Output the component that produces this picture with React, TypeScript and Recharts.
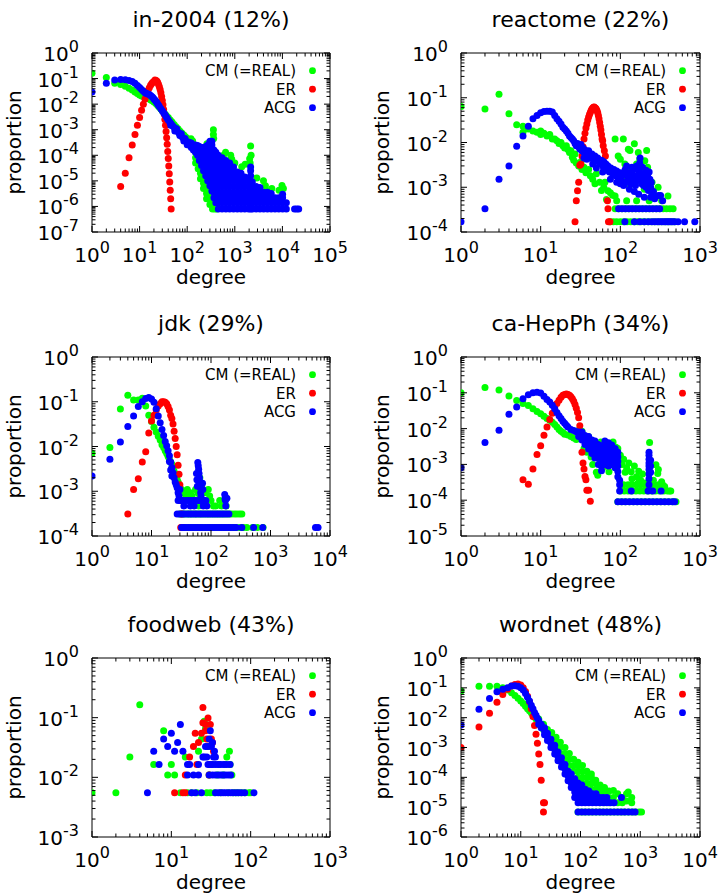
import React from "react";
import { Legend, ReferenceLine, Scatter, ScatterChart, XAxis, YAxis } from "recharts";

type Pt = [number, number];
type Col = [number, number[]];
type XY = { x: number; y: number };

const seriesNames = ["CM (=REAL)", "ER", "ACG"];
const seriesColors = ["#00ff00", "#ff0000", "#0000ff"];
const FONT = "DejaVu Sans";

// ---------- in-2004 ----------
const in2004XDecades = [1, 10, 100, 1e3, 1e4, 1e5];
const in2004YDecades = [1e-7, 1e-6, 1e-5, 1e-4, 1e-3, 1e-2, 1e-1, 1];
const in2004Cm: Pt[] = [
  [1, 0.16], [2, 0.11], [3, 0.065], [4, 0.058], [5, 0.05], [6, 0.042], [7, 0.036], [8, 0.03], [9, 0.026],
  [10, 0.023], [11, 0.021], [12, 0.02], [13, 0.019], [14, 0.018], [15, 0.017], [16, 0.016], [17, 0.015],
  [18, 0.014], [20, 0.012], [22, 0.0105], [24, 0.0088], [26, 0.0075], [28, 0.0064], [30, 0.0055], [33, 0.0045],
  [36, 0.0037], [40, 0.003], [44, 0.0024], [48, 0.002], [53, 0.0016], [58, 0.0013], [64, 0.0011], [70, 9e-4],
  [77, 7.5e-4], [85, 6.2e-4], [93, 5.2e-4], [100, 4.4e-4], [110, 4.2e-4], [120, 4.4e-4], [130, 3.6e-4],
  [355, 1e-3], [355, 6.5e-4], [360, 4.5e-4], [260, 2.8e-4], [300, 2.6e-4], [580, 1e-4], [640, 1.3e-4],
  [820, 1e-4], [860, 7.2e-5], [1000, 5e-5], [1200, 1.9e-5], [1400, 3.6e-5], [1650, 4.5e-5], [2050, 7.3e-5],
  [2100, 5e-5], [2150, 2.3e-4], [2200, 1e-4], [2900, 1.3e-5], [4000, 1e-5], [4400, 6.5e-6], [4700, 4.2e-6],
  [6000, 5e-6], [8500, 4.3e-6], [9800, 6.6e-6], [10500, 5e-6],
];
const in2004CmTail: Col[] = [
  [150, [5e-5, 8e-5, 1.3e-4, 2e-4]],
  [170, [3e-5, 5e-5, 8e-5, 1.3e-4]],
  [190, [1.2e-5, 2e-5, 3.2e-5, 5e-5, 8e-5]],
  [220, [5e-6, 8e-6, 1.3e-5, 2e-5, 3.2e-5]],
  [255, [2e-6, 3.2e-6, 5e-6, 8e-6, 1.3e-5]],
  [300, [1.2e-6, 2e-6, 3.2e-6, 5e-6]],
  [340, [8e-7, 1.4e-6, 2.2e-6]],
  [380, [8e-7, 1.4e-6]],
  [420, [8e-7]],
];
const in2004Er: Pt[] = [
  [4, 6e-6], [5, 2e-5], [6, 8e-5], [7, 2.5e-4], [8, 6.5e-4], [9, 1.5e-3], [10, 3e-3], [11, 5.8e-3], [12, 0.01],
  [13, 0.016], [14, 0.024], [15, 0.034], [16, 0.044], [17, 0.055], [18, 0.064], [19, 0.071], [20, 0.077],
  [21, 0.087], [22, 0.085], [23, 0.08], [24, 0.07], [25, 0.059], [26, 0.048], [27, 0.037], [28, 0.028],
  [29, 0.02], [30, 0.014], [31, 9.5e-3], [32, 6.2e-3], [33, 4e-3], [34, 2.5e-3], [35, 1.5e-3], [36, 8.5e-4],
  [37, 4.8e-4], [38, 2.7e-4], [39, 1.4e-4], [40, 7.5e-5], [41, 3.8e-5], [42, 1.9e-5], [43, 9e-6], [44, 4.3e-6],
  [45, 2e-6], [46, 8e-7],
];
const in2004Acg: Pt[] = [
  [1, 0.03], [2, 0.065], [3, 0.088], [4, 0.092], [5, 0.09], [6, 0.085], [7, 0.076], [8, 0.065], [9, 0.054],
  [10, 0.045], [11, 0.037], [12, 0.032], [13, 0.028], [14, 0.026], [15, 0.025], [16, 0.024], [17, 0.022],
  [18, 0.02], [19, 0.018], [20, 0.016], [21, 0.0145], [22, 0.013], [23, 0.0115], [24, 0.0102], [25, 0.009],
  [26, 0.008], [28, 0.0066], [30, 0.0055], [32, 0.0046], [34, 0.0039], [36, 0.0033], [38, 0.0028], [40, 0.0024],
  [43, 0.002], [46, 0.0017], [50, 0.0014], [54, 0.0012], [58, 0.001], [63, 8.5e-4], [68, 7.2e-4], [74, 6e-4],
  [80, 5e-4], [87, 4.3e-4], [95, 3.6e-4], [105, 3e-4], [45, 1.5e-3], [55, 9e-4], [60, 1.1e-3], [70, 6e-4],
  [75, 7e-4], [85, 3.6e-4], [90, 4.5e-4], [100, 2.6e-4],
];
const in2004AcgTail: Col[] = [
  [110, [2.5e-4, 3.2e-4]],
  [122, [2e-4, 3e-4]],
  [135, [1.6e-4, 2.5e-4]],
  [150, [1.3e-4, 2e-4, 2.5e-4]],
  [165, [1e-4, 1.6e-4, 2.4e-4]],
  [180, [6.3e-5, 1e-4, 1.6e-4, 2.2e-4]],
  [200, [4e-5, 6.3e-5, 1e-4, 1.6e-4, 2e-4]],
  [220, [2.5e-5, 4e-5, 6.3e-5, 1e-4, 1.6e-4, 2e-4]],
  [245, [1.6e-5, 2.5e-5, 4e-5, 6.3e-5, 1e-4, 1.6e-4, 2.2e-4]],
  [270, [1e-5, 1.6e-5, 2.5e-5, 4e-5, 6.3e-5, 1e-4, 1.6e-4, 2.5e-4]],
  [300, [6.4e-6, 1e-5, 1.6e-5, 2.5e-5, 4e-5, 6.3e-5, 1e-4, 1.6e-4, 2.5e-4, 3.5e-4]],
  [330, [4e-6, 6.4e-6, 1e-5, 1.6e-5, 2.5e-5, 4e-5, 6.3e-5, 1e-4, 1.6e-4, 2.5e-4, 3.5e-4]],
  [365, [2.2e-6, 3.6e-6, 6e-6, 1e-5, 1.6e-5, 2.5e-5, 4e-5, 6.3e-5, 1e-4, 1.6e-4]],
  [400, [1.4e-6, 2.2e-6, 3.6e-6, 6e-6, 1e-5, 1.6e-5, 2.5e-5, 4e-5, 6.3e-5, 1e-4, 1.3e-4]],
  [450, [8e-7, 1.4e-6, 2.2e-6, 3.6e-6, 6e-6, 1e-5, 1.6e-5, 2.5e-5, 4e-5, 6.3e-5, 1e-4]],
  [540, [8e-7, 1.4e-6, 2.2e-6, 3.6e-6, 6e-6, 1e-5, 1.6e-5, 2.5e-5, 4e-5, 6.3e-5, 8e-5]],
  [650, [8e-7, 1.4e-6, 2.2e-6, 3.6e-6, 6e-6, 1e-5, 1.6e-5, 2.5e-5, 4e-5, 6.3e-5]],
  [780, [8e-7, 1.4e-6, 2.2e-6, 3.6e-6, 6e-6, 1e-5, 1.6e-5, 2.5e-5, 4e-5, 5e-5]],
  [940, [8e-7, 1.4e-6, 2.2e-6, 3.6e-6, 6e-6, 1e-5, 1.6e-5, 2.5e-5, 3.5e-5]],
  [1130, [8e-7, 1.4e-6, 2.2e-6, 3.6e-6, 6e-6, 1e-5, 1.6e-5, 2.2e-5]],
  [1350, [8e-7, 1.4e-6, 2.2e-6, 3.6e-6, 6e-6, 1e-5, 1.6e-5, 2e-5]],
  [1620, [8e-7, 1.4e-6, 2.2e-6, 3.6e-6, 6e-6, 1e-5, 1.4e-5]],
  [1950, [8e-7, 1.4e-6, 2.2e-6, 3.6e-6, 6e-6, 1e-5]],
  [2150, [8e-7, 1.4e-6, 3.6e-6, 1e-5, 1.6e-5, 2.5e-5, 3.5e-5]],
  [2340, [8e-7, 1.4e-6, 2.2e-6, 3.6e-6, 6e-6, 9e-6]],
  [2800, [8e-7, 1.4e-6, 2.2e-6, 3.6e-6, 6e-6]],
  [3370, [8e-7, 1.4e-6, 2.2e-6, 3.6e-6, 5.5e-6]],
  [4040, [8e-7, 1.4e-6, 2.2e-6, 3.6e-6]],
  [4850, [8e-7, 1.4e-6, 2.2e-6, 3.6e-6]],
  [5820, [8e-7, 1.4e-6, 2.2e-6, 3.2e-6]],
  [7000, [8e-7, 1.4e-6, 2.2e-6]],
  [8400, [8e-7, 1.4e-6, 2.2e-6]],
  [10100, [8e-7, 1.4e-6, 2.2e-6, 3e-6]],
  [12100, [8e-7, 1.4e-6]],
  [18000, [8e-7]],
  [20000, [8e-7]],
  [22000, [8e-7]],
];

// ---------- reactome ----------
const reactomeXDecades = [1, 10, 100, 1e3];
const reactomeYDecades = [1e-4, 1e-3, 1e-2, 1e-1, 1];
const reactomeCm: Pt[] = [
  [1, 0.064], [2, 0.056], [3, 0.12], [4, 0.044], [5, 0.025], [6, 0.023], [6, 0.017], [7, 0.02], [8, 0.018],
  [9, 0.017], [10, 0.018], [10, 0.015], [11, 0.016], [12, 0.014], [13, 0.015], [14, 0.012], [15, 0.012],
  [16, 0.011], [17, 0.0095], [18, 0.01], [19, 0.0085], [20, 0.0075], [21, 0.0085], [22, 0.007], [23, 0.006],
  [24, 0.0065], [25, 0.0047], [26, 0.004], [27, 0.0055], [28, 0.0035], [30, 0.003], [32, 0.0037], [33, 0.0025],
  [35, 0.0028], [37, 0.0021], [40, 0.0025], [42, 0.0018], [45, 0.0015], [48, 0.0012], [50, 0.002], [55, 0.0013],
  [58, 8.5e-4], [62, 0.001], [64, 0.0013], [67, 5.3e-4], [70, 8.3e-4], [75, 7.5e-4], [80, 6.6e-4], [86, 6.4e-4],
  [86, 0.012], [94, 0.005], [100, 0.0042], [109, 0.012], [114, 0.0033], [120, 0.0026], [126, 0.0071],
  [132, 0.0066], [140, 0.0025], [150, 0.0094], [160, 0.0033], [168, 0.006], [175, 0.0043], [180, 0.0023],
  [193, 0.0018], [203, 0.0039], [214, 0.0066], [220, 0.0028], [236, 0.0011], [250, 0.0013], [298, 0.001],
  [310, 6.4e-4], [396, 6.4e-4], [260, 8e-4], [200, 9e-4], [150, 0.0012], [110, 0.0015], [130, 0.0011],
  [90, 5e-4], [120, 5e-4], [160, 5e-4], [230, 5e-4], [330, 5e-4],
];
const reactomeCmDouble = [86, 95, 105, 116, 128, 141, 156, 172, 190, 210, 232, 256, 283, 312, 345, 380, 420, 460];
const reactomeCmSingle = [75, 82, 90, 100, 110, 122, 135, 150, 165, 182, 200, 222, 245, 270, 300, 330, 365, 400, 440, 480];
const reactomeEr: Pt[] = [
  [27, 1.7e-4], [28, 5e-4], [29, 8.3e-4], [30, 1.3e-3], [31, 3.1e-3], [32, 3.3e-3], [33, 5e-3], [34, 8e-3],
  [35, 0.012], [36, 0.016], [37, 0.021], [38, 0.026], [39, 0.032], [40, 0.037], [41, 0.042], [42, 0.047],
  [43, 0.052], [44, 0.056], [45, 0.059], [46, 0.061], [47, 0.062], [48, 0.06], [49, 0.058], [50, 0.055],
  [51, 0.051], [52, 0.046], [53, 0.04], [54, 0.034], [55, 0.028], [56, 0.023], [57, 0.019], [58, 0.015],
  [59, 0.012], [60, 0.011], [61, 0.0085], [63, 0.0065], [65, 0.005], [69, 5e-4], [70, 3.3e-4], [71, 1.7e-4],
  [74, 1.7e-4],
];
const reactomeAcg: Pt[] = [
  [1, 1.7e-4], [2, 3.3e-4], [3, 1.5e-3], [4, 3e-3], [5, 8.2e-3], [6, 0.014], [7, 0.023], [8, 0.034], [9, 0.04],
  [10, 0.046], [11, 0.049], [12, 0.05], [13, 0.05], [14, 0.048], [15, 0.04], [16, 0.034], [17, 0.03],
  [18, 0.026], [19, 0.022], [20, 0.02], [21, 0.018], [22, 0.016], [23, 0.014], [24, 0.013], [25, 0.012],
  [26, 0.011], [27, 0.0095], [28, 0.0085], [29, 0.0095], [30, 0.008], [31, 0.0072], [32, 0.009], [33, 0.0065],
  [34, 0.0075], [35, 0.006], [36, 0.0068], [38, 0.0058], [40, 0.005], [40, 0.0065], [42, 0.0045], [44, 0.0055],
  [46, 0.0042], [48, 0.005], [50, 0.0038], [52, 0.0045], [55, 0.0034], [58, 0.004], [60, 0.003], [62, 0.0037],
  [64, 0.0026], [66, 0.0033], [68, 0.0024], [70, 0.003], [73, 0.0022], [76, 0.0027], [80, 0.002], [83, 0.0025],
  [87, 0.0018], [90, 0.0023], [95, 0.0016], [100, 0.0021], [105, 0.0014], [110, 0.0019], [115, 0.0025],
  [120, 0.0013], [125, 0.0017], [130, 0.0021], [135, 0.0012], [140, 0.0015], [145, 0.0019], [150, 0.0026],
  [155, 0.0011], [160, 0.0014], [165, 0.0018], [170, 0.0024], [175, 0.0035], [177, 0.0045], [180, 0.0016],
  [185, 0.0012], [190, 0.002], [195, 0.0011], [200, 0.0014], [205, 0.0017], [210, 0.001], [215, 0.0013],
  [220, 0.0018], [225, 8.5e-4], [230, 0.0012], [235, 0.0015], [240, 0.001], [245, 0.0013], [250, 6.5e-4],
  [260, 8e-4], [270, 5.5e-4], [300, 6.5e-4], [320, 6.5e-4], [340, 5e-4],
  [35, 0.0045], [38, 0.0042], [45, 0.0033], [50, 0.0027], [60, 0.0022], [75, 0.0015], [90, 0.0013],
  [100, 0.0012], [110, 0.0011], [120, 0.003], [130, 9e-4], [140, 0.0028], [150, 8e-4], [160, 0.003],
  [170, 7e-4], [190, 0.0028], [200, 6e-4], [210, 0.0024], [230, 0.0022], [240, 6e-4],
];
const reactomeAcgDouble = [95, 105, 116, 128, 141, 156, 172, 190, 210, 232, 256, 283, 312];
const reactomeAcgSingle = [114, 150, 175, 200, 225, 250, 270, 290, 310, 330, 350, 370, 390, 410, 430, 455, 480, 530, 640, 860];

// ---------- jdk ----------
const jdkXDecades = [1, 10, 100, 1e3, 1e4];
const jdkYDecades = [1e-4, 1e-3, 1e-2, 1e-1, 1];
const jdkCm: Pt[] = [
  [1, 7.1e-3], [2, 9.5e-3], [3, 0.069], [4, 0.14], [5, 0.11], [6, 0.11], [7, 0.12], [8, 0.08], [9, 0.05],
  [10, 0.036], [11, 0.027], [12, 0.021], [13, 0.017], [14, 0.014], [15, 0.011], [16, 9.5e-3], [17, 8e-3],
  [18, 7e-3], [19, 6e-3], [20, 5.2e-3], [21, 4.5e-3], [22, 4e-3], [23, 3.3e-3], [24, 2.8e-3], [25, 2.4e-3],
  [26, 2e-3], [27, 1.8e-3], [28, 1.6e-3], [30, 1.2e-3], [32, 1.1e-3], [34, 9.3e-4], [36, 9.3e-4], [38, 7.8e-4],
  [40, 1.1e-3], [42, 6.2e-4], [45, 9.3e-4], [48, 7.8e-4], [50, 6.2e-4], [55, 1.1e-3], [60, 9.3e-4], [62, 4.7e-4],
  [65, 7.8e-4], [70, 1.2e-3], [75, 6.2e-4], [80, 9.3e-4], [90, 1.1e-3], [95, 7.8e-4], [100, 6.2e-4],
  [110, 4.7e-4], [140, 6.2e-4], [150, 4.7e-4], [65, 2e-3], [120, 4.7e-4], [180, 4.7e-4],
];
const jdkCmDouble = [30, 33, 36, 40, 44, 48, 53, 58, 64, 70, 77, 85, 93, 102, 112, 123, 135, 148, 163, 180, 200, 220, 245, 270, 300, 330];
const jdkCmSingle = [35, 40, 46, 52, 60, 68, 78, 90, 100, 115, 130, 150, 170, 200, 230, 260, 300, 350, 400, 500, 600, 750];
const jdkEr: Pt[] = [
  [4, 3.1e-4], [5, 1.1e-3], [6, 1.9e-3], [7, 4.5e-3], [8, 7.6e-3], [9, 0.02], [10, 0.037], [11, 0.05],
  [12, 0.065], [13, 0.08], [14, 0.09], [15, 0.1], [16, 0.1], [17, 0.097], [18, 0.09], [19, 0.078], [20, 0.065],
  [21, 0.05], [22, 0.042], [23, 0.032], [24, 0.022], [25, 0.015], [26, 0.01], [27, 6.5e-3], [28, 3.8e-3],
  [29, 2.4e-3], [30, 1.4e-3], [31, 6.2e-4], [32, 3.1e-4], [31, 1.55e-4], [33, 1.55e-4],
];
const jdkAcg: Pt[] = [
  [1, 2.2e-3], [2, 5.2e-3], [3, 0.0126], [4, 0.028], [5, 0.048], [6, 0.078], [7, 0.1], [8, 0.118], [9, 0.125],
  [10, 0.115], [11, 0.097], [12, 0.07], [13, 0.048], [14, 0.034], [15, 0.024], [16, 0.0175], [17, 0.013],
  [18, 0.0104], [19, 0.008], [20, 0.0062], [21, 0.0045], [22, 0.0034], [23, 0.0026], [24, 0.002], [25, 0.0016],
  [26, 0.0014], [27, 0.0012], [28, 9.3e-4], [29, 7.8e-4], [30, 1.1e-3], [20, 0.0046], [21, 0.003], [22, 0.0022],
  [35, 4.7e-4], [45, 4.7e-4], [52, 4.7e-4], [57, 2.5e-3], [58, 1.8e-3], [59, 1.3e-3], [60, 4.4e-3], [61, 3.7e-3],
  [62, 3.1e-3], [63, 2.5e-3], [64, 2e-3], [65, 1.6e-3], [66, 1.2e-3], [67, 9.3e-4], [68, 7.8e-4], [72, 1.5e-3],
  [73, 1.1e-3], [74, 4.7e-4], [85, 4.7e-4], [170, 8.5e-4], [172, 6.8e-4], [175, 6.2e-4], [177, 4.7e-4],
  [185, 7e-4],
];
const jdkAcgQuad = [28, 31, 34, 38, 42, 46, 51, 56, 62, 68, 75, 82];
const jdkAcgDouble = [27, 30, 33, 36, 40, 44, 48, 53, 58, 64, 70, 77, 85, 93, 102, 112, 123, 135, 148, 163, 180, 200];
const jdkAcgSingle = [32, 35, 38, 42, 46, 50, 55, 60, 66, 72, 80, 88, 96, 105, 115, 126, 138, 150, 165, 180, 198, 217, 240, 265, 330, 520, 740, 5700, 6300];

// ---------- ca-HepPh ----------
const hepXDecades = [1, 10, 100, 1e3];
const hepYDecades = [1e-5, 1e-4, 1e-3, 1e-2, 1e-1, 1];
const hepCm: Pt[] = [
  [1, 0.1], [2, 0.14], [3, 0.12], [4, 0.081], [5, 0.061], [6, 0.05], [7, 0.044], [8, 0.036], [9, 0.03],
  [10, 0.026], [11, 0.022], [12, 0.019], [13, 0.017], [14, 0.015], [15, 0.013], [16, 0.011], [17, 0.0095],
  [18, 0.0085], [19, 0.0078], [20, 0.007], [22, 0.0066], [24, 0.006], [26, 0.0055], [28, 0.005], [30, 0.009],
  [33, 0.0085], [35, 0.0028], [38, 0.0022], [40, 0.0059], [43, 0.0016], [45, 0.001], [48, 0.0024], [50, 6e-4],
  [52, 5e-4], [55, 0.0014], [57, 0.0042], [60, 8e-4], [62, 0.003], [66, 0.0036], [70, 0.0011], [72, 6.2e-4],
  [76, 0.0024], [81, 0.0042], [85, 9e-4], [88, 0.003], [93, 0.0028], [100, 0.0018], [105, 0.001], [110, 0.0014],
  [115, 6e-4], [120, 8e-4], [128, 0.0011], [137, 6.2e-4], [140, 4e-4], [150, 9e-4], [160, 4.5e-4], [167, 3e-4],
  [170, 6.4e-4], [180, 3.6e-4], [190, 5.4e-4], [203, 3e-4], [210, 2.7e-4], [233, 0.0041], [240, 2.7e-4],
  [260, 3.6e-4], [280, 9.7e-4], [295, 5.6e-4], [300, 7.2e-4], [330, 3.3e-4], [360, 2.4e-4], [415, 1.8e-4],
];
const hepCmTriple = [110, 125, 140, 160, 180, 205, 230, 265, 300, 340];
const hepCmDouble = [100, 112, 125, 140, 157, 176, 197, 220, 247, 277, 310, 350, 390, 430];
const hepCmSingle = [93, 104, 116, 130, 146, 163, 183, 205, 230, 257, 288, 322, 361, 404, 452, 500];
const hepEr: Pt[] = [
  [6, 3.7e-4], [7, 2.8e-4], [8, 7.4e-4], [9, 1.9e-3], [10, 3.3e-3], [11, 6.5e-3], [12, 0.011], [13, 0.018],
  [14, 0.027], [15, 0.038], [16, 0.05], [17, 0.062], [18, 0.075], [19, 0.085], [20, 0.09], [21, 0.092],
  [22, 0.09], [23, 0.085], [24, 0.077], [25, 0.068], [26, 0.058], [27, 0.047], [28, 0.037], [29, 0.028],
  [30, 0.02], [31, 0.012], [32, 6e-3], [33, 2.2e-3], [34, 1.1e-3], [35, 7.4e-4], [36, 4.6e-4], [37, 3.7e-4],
  [38, 1.9e-4], [40, 1.9e-4], [42, 9.3e-5],
];
const hepAcg: Pt[] = [
  [1, 8.1e-4], [2, 4.1e-3], [3, 9e-3], [4, 0.025], [5, 0.04], [6, 0.068], [7, 0.088], [8, 0.1], [9, 0.104],
  [10, 0.098], [11, 0.08], [12, 0.065], [13, 0.055], [14, 0.045], [15, 0.036], [16, 0.028], [17, 0.023],
  [18, 0.019], [19, 0.016], [20, 0.014], [21, 0.0125], [22, 0.011], [24, 0.0095], [26, 0.0088], [28, 0.0082],
];
const hepAcgBlob: Col[] = [
  [30, [6e-3, 8e-3]],
  [33, [4.8e-3, 6.4e-3, 8e-3]],
  [36, [3.6e-3, 4.8e-3, 6.4e-3]],
  [40, [2.7e-3, 3.6e-3, 4.8e-3, 6e-3]],
  [44, [2e-3, 2.7e-3, 3.6e-3, 4.8e-3]],
  [48, [1.5e-3, 2e-3, 2.7e-3, 3.6e-3, 4.5e-3]],
  [53, [1e-3, 1.5e-3, 2e-3, 2.7e-3, 3.6e-3]],
  [58, [6.6e-4, 9e-4, 1.3e-3, 1.8e-3, 2.5e-3, 3.3e-3]],
  [64, [1e-3, 1.4e-3, 1.9e-3, 2.6e-3, 3.5e-3, 4.5e-3]],
  [71, [9e-4, 1.2e-3, 1.6e-3, 2.2e-3, 3e-3, 4e-3]],
  [78, [1e-3, 1.4e-3, 1.9e-3, 2.6e-3, 3.5e-3]],
  [86, [8e-4, 1.1e-3, 1.5e-3, 2e-3, 2.8e-3]],
  [93, [4.5e-4, 6.3e-4, 9e-4, 1.2e-3, 1.6e-3, 2.2e-3]],
  [98, [1.8e-4, 2.7e-4, 3.6e-4]],
  [137, [1.8e-4]],
  [223, [1.8e-4]],
  [229, [2.2e-3, 1.8e-3, 1.4e-3, 1.1e-3, 9e-4, 7.2e-4, 5.4e-4, 4e-4, 2.7e-4]],
  [240, [1.3e-3, 9e-4, 6e-4]],
  [255, [1.8e-4]],
  [325, [1.8e-4]],
];
const hepAcgSingle = [93, 104, 116, 130, 146, 163, 183, 205, 230, 257, 288, 322, 361, 404, 452, 480];

// ---------- foodweb ----------
const foodXDecades = [1, 10, 100, 1e3];
const foodYDecades = [1e-3, 1e-2, 1e-1, 1];
const foodCm: Pt[] = [
  [1, 0.0055], [2, 0.0055], [3, 0.0219], [4, 0.164], [6, 0.0164], [8, 0.0601], [9, 0.0109], [10, 0.0164],
  [11, 0.0109], [13, 0.0055], [15, 0.0219], [16, 0.0055], [18, 0.0055], [21, 0.0055], [22, 0.0273], [24, 0.0437],
  [26, 0.0874], [27, 0.0656], [28, 0.0055], [29, 0.0328], [30, 0.0109], [31, 0.0055], [33, 0.0164], [35, 0.0055],
  [38, 0.0109], [40, 0.0164], [42, 0.0055], [45, 0.0109], [47, 0.0164], [50, 0.0219], [52, 0.0055], [54, 0.0273],
  [55, 0.0164], [58, 0.0109], [60, 0.0055], [65, 0.0055], [70, 0.0055], [77, 0.0055], [85, 0.0055], [95, 0.0055],
  [100, 0.0055],
];
const foodEr: Pt[] = [
  [11, 0.0055], [14, 0.0055], [15, 0.0055], [15, 0.0109], [17, 0.0219], [19, 0.0328], [20, 0.0546], [21, 0.0164],
  [22, 0.0382], [24, 0.0546], [25, 0.082], [25, 0.148], [27, 0.0601], [28, 0.0437], [29, 0.0984], [31, 0.0765],
  [32, 0.0437], [33, 0.0382], [34, 0.0273], [30, 0.0109], [31, 0.0164], [27, 0.0765],
];
const foodAcg: Pt[] = [
  [5, 0.0055], [6, 0.0273], [7, 0.0164], [8, 0.0437], [9, 0.0328], [10, 0.0546], [11, 0.0273], [12, 0.0382],
  [13, 0.0765], [14, 0.0273], [16, 0.0164], [17, 0.0164], [16, 0.0109], [19, 0.0109], [22, 0.0109], [18, 0.0055],
  [20, 0.0055], [24, 0.0055], [22, 0.0164], [25, 0.0219], [26, 0.0219], [27, 0.0328], [28, 0.0219], [29, 0.0328],
  [30, 0.0437], [31, 0.0601], [32, 0.0328], [33, 0.0382], [34, 0.0219], [35, 0.0273], [36, 0.0219], [29, 0.0164],
  [31, 0.0164], [33, 0.0164], [36, 0.0164], [39, 0.0164], [42, 0.0164], [46, 0.0164], [50, 0.0164], [55, 0.0164],
  [30, 0.0109], [33, 0.0109], [36, 0.0109], [39, 0.0109], [42, 0.0109], [45, 0.0109], [48, 0.0109], [52, 0.0109],
  [56, 0.0109], [36, 0.0055], [39, 0.0055], [42, 0.0055], [45, 0.0055], [48, 0.0055], [52, 0.0055], [56, 0.0055],
  [60, 0.0055], [65, 0.0055], [70, 0.0055], [76, 0.0055], [84, 0.0055], [110, 0.0055],
];

// ---------- wordnet ----------
const wordnetXDecades = [1, 10, 100, 1e3, 1e4];
const wordnetYDecades = [1e-6, 1e-5, 1e-4, 1e-3, 1e-2, 1e-1, 1];
const wordnetCm: Pt[] = [
  [1, 0.078], [2, 0.114], [3, 0.114], [4, 0.114], [5, 0.1], [6, 0.085], [7, 0.068], [8, 0.055], [9, 0.045],
  [10, 0.036], [11, 0.03], [12, 0.024], [13, 0.02], [14, 0.017], [15, 0.0146], [16, 0.012], [17, 0.0105],
  [18, 0.009],
];
const wordnetCmBand: Col[] = [
  [20, [6e-3, 9e-3]],
  [24, [4e-3, 6e-3]],
  [28, [2.5e-3, 4e-3]],
  [33, [1.6e-3, 2.5e-3, 3.2e-3]],
  [39, [1e-3, 1.6e-3, 2.2e-3]],
  [46, [6.3e-4, 1e-3, 1.5e-3]],
  [55, [4e-4, 6.3e-4, 1e-3]],
  [65, [2.5e-4, 4e-4, 6.3e-4]],
  [77, [1.6e-4, 2.5e-4, 4e-4]],
  [91, [1e-4, 1.6e-4, 2.5e-4, 3.2e-4]],
  [108, [6.3e-5, 1e-4, 1.6e-4, 2.5e-4]],
  [128, [4e-5, 6.3e-5, 1e-4, 1.6e-4]],
  [152, [2.5e-5, 4e-5, 6.3e-5, 1e-4, 1.3e-4]],
  [180, [1.6e-5, 2.5e-5, 4e-5, 6.3e-5, 8e-5]],
  [213, [1.4e-5, 2.5e-5, 4e-5, 5.5e-5]],
  [252, [1.4e-5, 2.1e-5, 3e-5, 4.6e-5]],
  [300, [1.4e-5, 2.1e-5, 3.5e-5]],
  [355, [1.4e-5, 2.1e-5, 3.6e-5]],
  [420, [1.4e-5, 2.8e-5]],
  [500, [1.4e-5, 2.1e-5]],
  [590, [1.6e-5, 2.8e-5]],
  [630, [3.2e-5]],
  [720, [2.1e-5, 1.4e-5]],
];
const wordnetCmSingle = [91, 105, 120, 138, 158, 182, 210, 240, 276, 317, 365, 420, 480, 550, 635, 730, 840, 960, 1050];
const wordnetEr: Pt[] = [
  [1, 1e-3], [2, 4.9e-3], [3, 0.014], [4, 0.033], [5, 0.06], [6, 0.09], [7, 0.115], [8, 0.13], [9, 0.135],
  [10, 0.125], [11, 0.1], [12, 0.075], [13, 0.052], [14, 0.034], [15, 0.02], [16, 0.011], [17, 5.5e-3],
  [18, 2.8e-3], [19, 1.4e-3], [20, 6e-4], [21, 2.7e-4], [22, 8e-5], [24, 1.4e-5], [25, 1.4e-5], [24, 6.9e-6],
];
const wordnetAcg: Pt[] = [
  [1, 5.7e-3], [2, 0.019], [3, 0.044], [4, 0.074], [5, 0.09], [6, 0.1], [7, 0.115], [8, 0.118], [9, 0.114],
  [10, 0.1], [11, 0.085], [12, 0.065], [13, 0.048], [14, 0.036], [15, 0.026], [16, 0.02], [17, 0.015],
  [18, 0.012], [19, 0.0095], [485, 2.1e-5],
];
const wordnetAcgBand: Col[] = [
  [20, [6e-3, 8e-3]],
  [22, [4.6e-3, 6e-3]],
  [25, [2.7e-3, 3.6e-3, 4.6e-3]],
  [28, [1.7e-3, 2.3e-3, 3e-3]],
  [32, [1e-3, 1.4e-3, 1.9e-3]],
  [37, [6e-4, 8.5e-4, 1.2e-3]],
  [42, [3.6e-4, 5e-4, 7e-4]],
  [48, [2.2e-4, 3.2e-4, 4.5e-4]],
  [55, [1.3e-4, 1.9e-4, 2.7e-4]],
  [62, [7.7e-5, 1.1e-4, 1.6e-4]],
  [70, [4.6e-5, 6.5e-5, 9.5e-5, 1.3e-4]],
  [80, [2.1e-5, 3.2e-5, 4.6e-5, 6.5e-5, 9e-5]],
  [91, [1.4e-5, 2.1e-5, 3.2e-5, 4.6e-5, 6.5e-5]],
  [105, [1.4e-5, 2.1e-5, 2.8e-5, 4e-5, 5.5e-5]],
  [120, [1.4e-5, 2.1e-5, 2.8e-5, 4e-5]],
  [138, [1.4e-5, 2.1e-5, 2.8e-5, 3.5e-5]],
  [158, [1.4e-5, 2.1e-5, 2.8e-5]],
  [182, [1.4e-5, 2.1e-5, 2.8e-5]],
  [210, [1.4e-5, 2.1e-5]],
  [240, [1.4e-5, 2.1e-5]],
  [276, [1.4e-5, 2.1e-5]],
  [317, [1.4e-5]],
  [365, [1.4e-5]],
];
const wordnetAcgSingle = [91, 105, 120, 138, 158, 182, 210, 240, 276, 317, 365, 420, 480, 550, 635, 730, 820];

// ---------- helpers ----------
const pts = (p: Pt[]): XY[] => p.map(([x, y]) => ({ x, y }));
const cols = (c: Col[]): XY[] => c.flatMap(([x, ys]) => ys.map((y) => ({ x, y })));
const row = (y: number, xs: number[]): XY[] => xs.map((x) => ({ x, y }));

const withMinors = (decades: number[]) => {
  const out: number[] = [];
  decades.forEach((d, i) => {
    out.push(d);
    if (i < decades.length - 1) for (let k = 2; k <= 9; k++) out.push(d * k);
  });
  return out;
};
const expOf = (v: number) => Math.round(Math.log10(v));
const isDecade = (v: number) => Math.abs(Math.log10(v) - expOf(v)) < 1e-6;

type PanelCfg = {
  title: string;
  col: number;
  row: number;
  xDecades: number[];
  yDecades: number[];
  cm: XY[];
  er: XY[];
  acg: XY[];
};

const panels: PanelCfg[] = [
  {
    title: "in-2004 (12%)", col: 0, row: 0, xDecades: in2004XDecades, yDecades: in2004YDecades,
    cm: [...pts(in2004Cm), ...cols(in2004CmTail)],
    er: pts(in2004Er),
    acg: [...pts(in2004Acg), ...cols(in2004AcgTail)],
  },
  {
    title: "reactome (22%)", col: 1, row: 0, xDecades: reactomeXDecades, yDecades: reactomeYDecades,
    cm: [...pts(reactomeCm), ...row(3.3e-4, reactomeCmDouble), ...row(1.7e-4, reactomeCmSingle)],
    er: pts(reactomeEr),
    acg: [...pts(reactomeAcg), ...row(3.3e-4, reactomeAcgDouble), ...row(1.7e-4, reactomeAcgSingle)],
  },
  {
    title: "jdk (29%)", col: 0, row: 1, xDecades: jdkXDecades, yDecades: jdkYDecades,
    cm: [...pts(jdkCm), ...row(3.1e-4, jdkCmDouble), ...row(1.55e-4, jdkCmSingle)],
    er: pts(jdkEr),
    acg: [...pts(jdkAcg), ...row(6.2e-4, jdkAcgQuad), ...row(3.1e-4, jdkAcgDouble), ...row(1.55e-4, jdkAcgSingle)],
  },
  {
    title: "ca-HepPh (34%)", col: 1, row: 1, xDecades: hepXDecades, yDecades: hepYDecades,
    cm: [...pts(hepCm), ...row(2.7e-4, hepCmTriple), ...row(1.8e-4, hepCmDouble), ...row(9e-5, hepCmSingle)],
    er: pts(hepEr),
    acg: [...pts(hepAcg), ...cols(hepAcgBlob), ...row(9e-5, hepAcgSingle)],
  },
  {
    title: "foodweb (43%)", col: 0, row: 2, xDecades: foodXDecades, yDecades: foodYDecades,
    cm: pts(foodCm),
    er: pts(foodEr),
    acg: pts(foodAcg),
  },
  {
    title: "wordnet (48%)", col: 1, row: 2, xDecades: wordnetXDecades, yDecades: wordnetYDecades,
    cm: [...pts(wordnetCm), ...cols(wordnetCmBand), ...row(6.9e-6, wordnetCmSingle)],
    er: pts(wordnetEr),
    acg: [...pts(wordnetAcg), ...cols(wordnetAcgBand), ...row(6.9e-6, wordnetAcgSingle)],
  },
];

const ROW_TOPS = [0, 304, 605];
const PANEL_W = 360;
const CHART_H = 290;
const PLOT_TOP = 53;
const PLOT_H = 179;
const MAJOR = 6;
const MINOR = 3.5;

const XTick = (props: any) => {
  const { x, y, payload } = props;
  const v = payload.value as number;
  const major = isDecade(v);
  const len = major ? MAJOR : MINOR;
  return (
    <g>
      <line x1={x} x2={x} y1={y} y2={y - len} stroke="#000" />
      <line x1={x} x2={x} y1={y - PLOT_H} y2={y - PLOT_H + len} stroke="#000" />
      {major && (
        <text x={x} y={y + 30} textAnchor="middle" fontSize={20} fontFamily={FONT} fill="#000">
          10<tspan dy={-9} fontSize={16}>{expOf(v)}</tspan>
        </text>
      )}
    </g>
  );
};

const YTick = (props: any) => {
  const { x, y, payload, plotW } = props;
  const v = payload.value as number;
  const major = isDecade(v);
  const len = major ? MAJOR : MINOR;
  return (
    <g>
      <line x1={x} x2={x + len} y1={y} y2={y} stroke="#000" />
      <line x1={x + plotW} x2={x + plotW - len} y1={y} y2={y} stroke="#000" />
      {major && (
        <text x={x - 13} y={y + 8} textAnchor="end" fontSize={20} fontFamily={FONT} fill="#000">
          10<tspan dy={-9} fontSize={16}>{expOf(v)}</tspan>
        </text>
      )}
    </g>
  );
};

const renderLegend = () => (
  <svg width={150} height={66} style={{ display: "block" }}>
    {seriesNames.map((name, i) => {
      const cy = 17.7 + i * 18.5;
      return (
        <g key={name}>
          <text x={116} y={cy + 5.5} textAnchor="end" fontSize={15} fontFamily={FONT} fill="#000">
            {name}
          </text>
          <circle cx={132.5} cy={cy} r={3.4} fill={seriesColors[i]} />
        </g>
      );
    })}
  </svg>
);

const dot = (color: string) => (p: any) => <circle cx={p.cx} cy={p.cy} r={3.5} fill={color} />;

function Panel({ cfg }: { cfg: PanelCfg }) {
  const yAxisW = cfg.col === 0 ? 92 : 101;
  const rightM = cfg.col === 0 ? 30 : 20;
  const plotW = PANEL_W - yAxisW - rightM;
  const midX = yAxisW + plotW / 2;
  const xMax = cfg.xDecades[cfg.xDecades.length - 1];
  const yMin = cfg.yDecades[0];
  const yMax = cfg.yDecades[cfg.yDecades.length - 1];
  const labelX = cfg.col === 0 ? 20.5 : 28.5;
  const series = [cfg.cm, cfg.er, cfg.acg];
  return (
    <div style={{ position: "absolute", left: cfg.col * PANEL_W, top: ROW_TOPS[cfg.row], width: PANEL_W, height: CHART_H }}>
      <ScatterChart width={PANEL_W} height={CHART_H} margin={{ top: PLOT_TOP, right: rightM, bottom: 0, left: 0 }}>
        <XAxis
          type="number"
          dataKey="x"
          scale="log"
          domain={[1, xMax]}
          ticks={withMinors(cfg.xDecades)}
          interval={0}
          allowDataOverflow
          height={CHART_H - PLOT_TOP - PLOT_H}
          tickSize={0}
          tickMargin={0}
          tickLine={false}
          axisLine={{ stroke: "#000" }}
          tick={(p: any) => <XTick {...p} />}
        />
        <YAxis
          type="number"
          dataKey="y"
          scale="log"
          domain={[yMin, yMax]}
          ticks={withMinors(cfg.yDecades)}
          interval={0}
          allowDataOverflow
          width={yAxisW}
          tickSize={0}
          tickMargin={0}
          tickLine={false}
          axisLine={{ stroke: "#000" }}
          tick={(p: any) => <YTick {...p} plotW={plotW} />}
        />
        <ReferenceLine y={yMax} stroke="#000" strokeWidth={1} />
        <ReferenceLine x={xMax} stroke="#000" strokeWidth={1} />
        {series.map((data, i) => (
          <Scatter
            key={seriesNames[i]}
            name={seriesNames[i]}
            data={data}
            fill={seriesColors[i]}
            shape={dot(seriesColors[i])}
            isAnimationActive={false}
          />
        ))}
        <Legend
          layout="vertical"
          align="center"
          verticalAlign="middle"
          wrapperStyle={{ left: yAxisW + plotW - 150, top: PLOT_TOP, width: 150, height: 66 }}
          content={renderLegend}
        />
      </ScatterChart>
      <svg
        width={PANEL_W}
        height={CHART_H}
        style={{ position: "absolute", left: 0, top: 0, pointerEvents: "none" }}
        fontFamily={FONT}
      >
        <text x={midX} y={27} textAnchor="middle" fontSize={22} fill="#000">
          {cfg.title}
        </text>
        <text x={midX} y={PLOT_TOP + PLOT_H + 52} textAnchor="middle" fontSize={20} fill="#000">
          degree
        </text>
        <text
          x={labelX}
          y={PLOT_TOP + PLOT_H / 2}
          textAnchor="middle"
          fontSize={20}
          fill="#000"
          transform={`rotate(-90 ${labelX} ${PLOT_TOP + PLOT_H / 2})`}
        >
          proportion
        </text>
      </svg>
    </div>
  );
}

export default function App() {
  return (
    <div style={{ position: "absolute", left: 0, top: 0, width: 720, height: 895, background: "#fff" }}>
      {panels.map((cfg) => (
        <Panel key={cfg.title} cfg={cfg} />
      ))}
    </div>
  );
}
